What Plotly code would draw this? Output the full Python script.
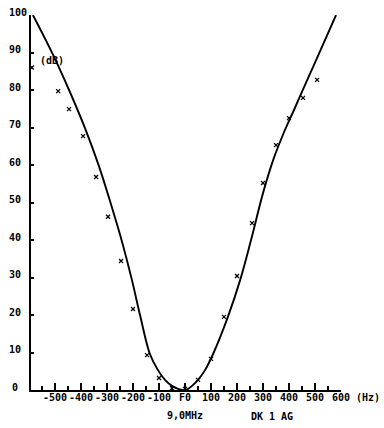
import plotly.graph_objects as go

# Curve (Hz, dB)
curve_x = [-585, -511, -446, -385, -331, -285, -242, -204, -173, -135, -104, -77, -50, -12,
           4, 27, 50, 77, 108, 165, 212, 254, 300, 340, 380, 420, 469, 500, 581]
curve_y = [100, 89.9, 80, 69.9, 59.7, 49.6, 39.5, 29.3, 20, 9.6, 5.3, 2.7, 1.1, 0,
           0, 1.1, 2.7, 5.3, 9.6, 19.5, 29.3, 40, 52.5, 61.5, 68.6, 74.8, 82.5, 87.3, 100]

# Measured points (x marks)
pts_x = [-589, -488, -446, -392, -342, -296, -246, -200, -146, -100, -50, 0,
         50, 100, 150, 200, 258, 300, 350, 400, 454, 508, 608]
pts_y = [86, 79.7, 74.9, 67.7, 56.8, 46.2, 34.4, 21.6, 9.3, 3.2, 0.5, 0.3,
         2.7, 8.3, 19.5, 30.4, 44.5, 55.2, 65.3, 72.5, 77.9, 82.7, 87.4]

x_tickvals = [-500, -400, -300, -200, -100, 0, 100, 200, 300, 400, 500, 600]
x_ticktext = ["-500", "-400", "-300", "-200", "-100", "F0", "100", "200", "300", "400", "500", "600"]
x_minor = [-550, -450, -350, -250, -150, -50, 50, 150, 250, 350, 450, 550]
y_tickvals = [0, 10, 20, 30, 40, 50, 60, 70, 80, 90, 100]
y_ticktext = ["0", "10", "20", "30", "40", "50", "60", "70", "80", "90", "100"]

FONT = "DejaVu Sans Mono"
fnt = dict(family=FONT, size=10, color="black")

fig = go.Figure()
fig.add_trace(go.Scatter(x=curve_x, y=curve_y, mode="lines",
                         line=dict(color="black", width=1.9, shape="spline", smoothing=1.0),
                         cliponaxis=False, hoverinfo="skip"))
fig.add_trace(go.Scatter(x=pts_x, y=pts_y, mode="markers",
                         marker=dict(symbol="x-thin", size=4, line=dict(color="black", width=1.3)),
                         cliponaxis=False, hoverinfo="skip"))

L, R, T, B = 31, 43, 15, 38
W, H = 384, 428
pw = W - L - R

annotations = []
for v, t in zip(y_tickvals, y_ticktext):
    px = 10 if t == "0" else 7
    annotations.append(dict(x=(px - L) / pw, xref="paper", y=v, yref="y", text="<b>%s</b>" % t,
                            showarrow=False, xanchor="left", yanchor="middle", yshift=3,
                            font=fnt))
for v, t in zip(x_tickvals, x_ticktext):
    annotations.append(dict(x=v, xref="x", y=0, yref="y", text="<b>%s</b>" % t,
                            showarrow=False, yanchor="middle", yshift=-7, font=fnt))
annotations.append(dict(x=-511, y=88, xref="x", yref="y", text="<b>(dB)</b>", showarrow=False,
                        font=fnt))
annotations.append(dict(x=(382 - L) / pw, xref="paper", y=0, yref="y", yshift=-7,
                        yanchor="middle", xanchor="right", text="<b>(Hz)</b>",
                        showarrow=False, font=fnt))
annotations.append(dict(x=0, xref="x", y=0, yref="y", yshift=-25, yanchor="middle",
                        text="<b>9,0MHz</b>", showarrow=False, font=fnt))
annotations.append(dict(x=(295 - L) / pw, xref="paper", y=0, yref="y", yshift=-26,
                        yanchor="middle", text="<b>DK 1 AG</b>", showarrow=False, font=fnt))

fig.update_layout(
    width=W, height=H,
    margin=dict(l=L, r=R, t=T, b=B),
    paper_bgcolor="white", plot_bgcolor="white",
    showlegend=False,
    annotations=annotations,
    xaxis=dict(range=[(31 - 185) / 0.26, 600], showgrid=False, zeroline=False,
               showline=True, linecolor="black", linewidth=2,
               ticks="inside", ticklen=7, tickwidth=1.5, tickcolor="black",
               tickvals=x_tickvals, showticklabels=False,
               minor=dict(tickvals=x_minor,
                          ticks="inside", ticklen=4, tickwidth=1.5, tickcolor="black")),
    yaxis=dict(range=[0, 100], showgrid=False, zeroline=False,
               showline=True, linecolor="black", linewidth=2,
               ticks="inside", ticklen=3, tickwidth=1.5, tickcolor="black",
               tickvals=y_tickvals, showticklabels=False),
)

fig.write_html("out.html")
